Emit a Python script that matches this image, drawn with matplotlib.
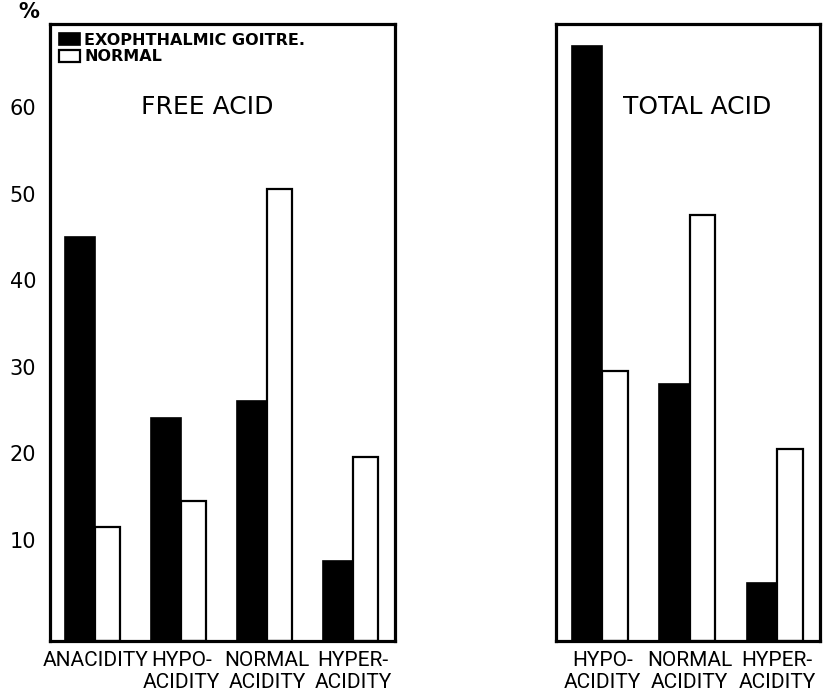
import numpy as np
import matplotlib
matplotlib.use("Agg")
import matplotlib.pyplot as plt

# Daten (Prozent)
free_cats = ["ANACIDITY", "HYPO-\nACIDITY", "NORMAL\nACIDITY", "HYPER-\nACIDITY"]
free_goitre = [45, 24, 26, 7.5]
free_normal = [11.5, 14.5, 50.5, 19.5]

total_cats = ["HYPO-\nACIDITY", "NORMAL\nACIDITY", "HYPER-\nACIDITY"]
total_goitre = [67, 28, 5]
total_normal = [29.5, 47.5, 20.5]

y_ticks = [10, 20, 30, 40, 50, 60]

# Achsenbereich
ymin, ymax = -1.73, 69.6
wb, ww = 0.35, 0.29   # Balkenbreiten schwarz / weiss

fig = plt.figure(figsize=(8.25, 6.97), dpi=100)
ax1 = fig.add_axes([50/825, 56/697, 345/825, 617/697])
ax2 = fig.add_axes([556/825, 56/697, 264/825, 617/697])


def draw(ax, cats, goitre, normal, title, title_x):
    x = np.arange(len(cats))
    b1 = ax.bar(x - wb, np.array(goitre) - ymin, bottom=ymin, width=wb,
                align="edge", color="black", edgecolor="black", linewidth=1.2,
                label="EXOPHTHALMIC GOITRE.")
    b2 = ax.bar(x, np.array(normal) - ymin, bottom=ymin, width=ww,
                align="edge", color="white", edgecolor="black", linewidth=1.6,
                label="NORMAL")
    ax.set_ylim(ymin, ymax)
    ax.set_xlim(-0.53, len(cats) - 0.51)
    ax.set_xticks(x)
    ax.set_xticklabels(cats, family="Roboto", fontsize=15, linespacing=1.2)
    ax.tick_params(axis="x", length=0, pad=7)
    for s in ax.spines.values():
        s.set_linewidth(2.3)
    ax.text(title_x, 60, title, ha="center", va="center", fontsize=18)
    return b1, b2


b1, b2 = draw(ax1, free_cats, free_goitre, free_normal, "FREE ACID", 1.3)
draw(ax2, total_cats, total_goitre, total_normal, "TOTAL ACID", 1.09)

ax1.set_yticks(y_ticks)
ax1.set_yticklabels([str(v) for v in y_ticks], fontsize=15)
ax1.tick_params(axis="y", length=0, pad=10)
ax2.set_yticks([])

ax1.text(-0.78, 71, "%", ha="center", va="center", fontsize=15,
         fontweight="bold", clip_on=False)

ax1.legend(handles=[b1, b2], loc="upper left", frameon=False,
           prop={"size": 11.5, "weight": "bold"}, handlelength=1.3,
           handleheight=0.8, handletextpad=0.3, labelspacing=0.1,
           borderaxespad=0.2, borderpad=0.35)

fig.savefig("out.png", dpi=100)
